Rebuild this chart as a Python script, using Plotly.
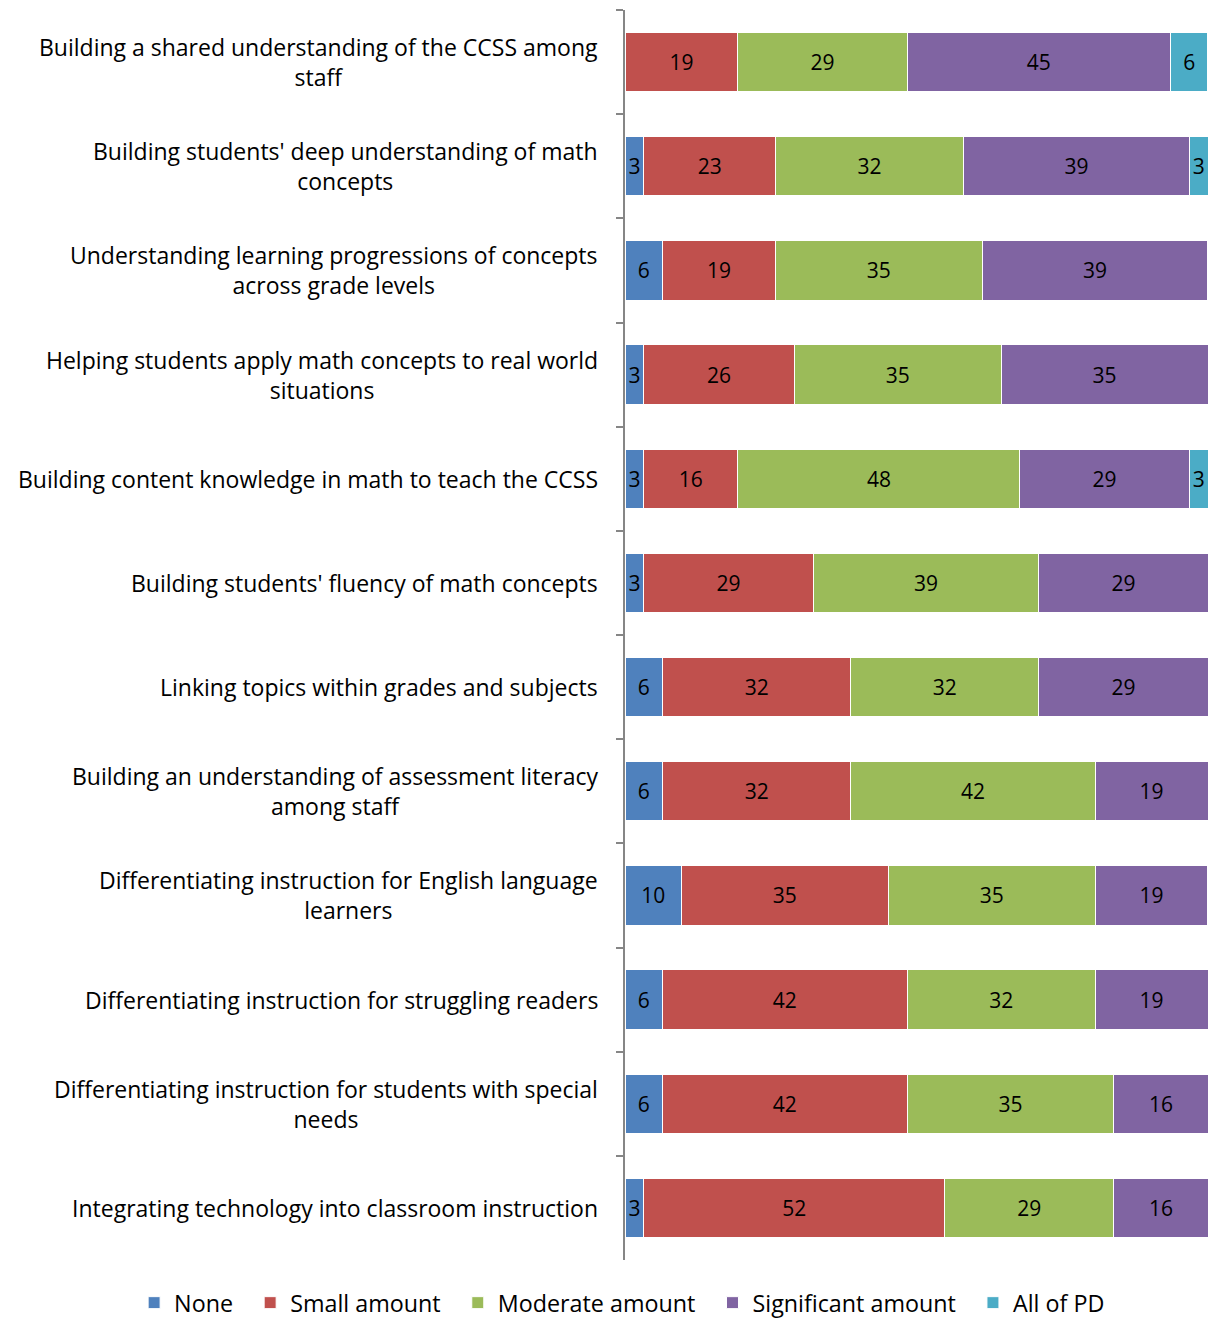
import plotly.graph_objects as go

categories = [
    "Building a shared understanding of the CCSS among<br>staff",
    "Building students' deep understanding of math<br>concepts",
    "Understanding learning progressions of concepts<br>across grade levels",
    "Helping students apply math concepts to real world<br>situations",
    "Building content knowledge in math to teach the CCSS",
    "Building students' fluency of math concepts",
    "Linking topics within grades and subjects",
    "Building an understanding of assessment literacy<br>among staff",
    "Differentiating instruction for English language<br>learners",
    "Differentiating instruction for struggling readers",
    "Differentiating instruction for students with special<br>needs",
    "Integrating technology into classroom instruction",
]

none_vals = [None, 3.23, 6.45, 3.23, 3.23, 3.23, 6.45, 6.45, 9.68, 6.45, 6.45, 3.23]
small_vals = [19.35, 22.58, 19.35, 25.81, 16.13, 29.03, 32.26, 32.26, 35.48, 41.94, 41.94, 51.61]
moderate_vals = [29.03, 32.26, 35.48, 35.48, 48.39, 38.71, 32.26, 41.94, 35.48, 32.26, 35.48, 29.03]
significant_vals = [45.16, 38.71, 38.71, 35.48, 29.03, 29.03, 29.03, 19.35, 19.35, 19.35, 16.13, 16.13]
all_vals = [6.45, 3.23, None, None, 3.23, None, None, None, None, None, None, None]

series = [
    ("None", none_vals, "#4F81BD"),
    ("Small amount", small_vals, "#C0504D"),
    ("Moderate amount", moderate_vals, "#9BBB59"),
    ("Significant amount", significant_vals, "#8064A2"),
    ("All of PD", all_vals, "#4BACC6"),
]

FONT = "Open Sans"
PAD = "\u00a0\u00a0"

fig = go.Figure()
for i, (name, vals, color) in enumerate(series):
    fig.add_trace(go.Bar(
        name=name + (PAD if i < len(series) - 1 else ""),
        y=categories, x=vals, orientation="h",
        marker=dict(color=color, line=dict(color="white", width=1)),
        texttemplate="%{x:.0f}", textposition="inside",
        insidetextanchor="middle", textangle=0, constraintext="none",
        textfont=dict(family=FONT, size=21, color="black"),
        hoverinfo="skip",
    ))

for cat in categories:
    fig.add_annotation(
        x=0, xref="x domain", y=cat, yref="y", text=cat, showarrow=False,
        xanchor="right", yanchor="middle", align="center", xshift=-25,
        font=dict(family=FONT, size=23, color="black"),
    )

fig.update_layout(
    barmode="stack", bargap=0.43,
    width=1208, height=1325,
    margin=dict(l=0, r=0, t=10, b=65),
    plot_bgcolor="white", paper_bgcolor="white",
    font=dict(family=FONT, size=21, color="black"),
    uniformtext=dict(minsize=21, mode="show"),
    showlegend=True,
    legend=dict(orientation="h", xref="paper", yref="container",
                x=0.515, xanchor="center", y=0.0, yanchor="bottom",
                font=dict(family=FONT, size=23.3, color="black"),
                traceorder="normal"),
    xaxis=dict(range=[0, 100], domain=[625 / 1208, 1], visible=False, fixedrange=True),
    yaxis=dict(type="category", categoryarray=categories, autorange="reversed",
               showticklabels=False, ticks="outside", tickson="boundaries",
               ticklen=7, tickcolor="#868686", tickwidth=2,
               showline=True, linecolor="#868686", linewidth=2,
               showgrid=False, zeroline=False, fixedrange=True),
)

fig.write_html(
    "out.html",
    config={"displayModeBar": False},
    post_script="document.body.style.margin='0';document.body.style.overflow='hidden';",
)
